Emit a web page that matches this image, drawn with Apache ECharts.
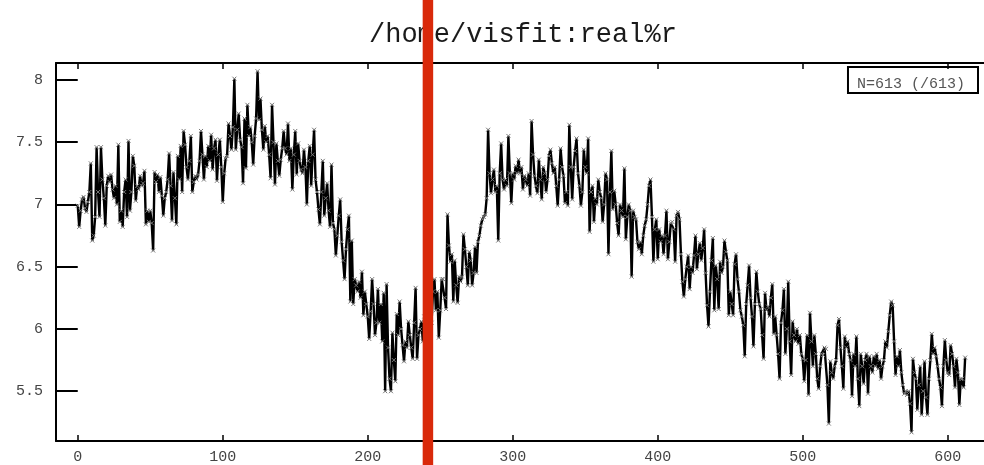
<!DOCTYPE html>
<html>
<head>
<meta charset="utf-8">
<script src="https://cdn.jsdelivr.net/npm/echarts@6/dist/echarts.min.js"></script>
<style>
  html, body { margin: 0; padding: 0; background: #ffffff; }
  #chart { width: 984px; height: 465px; }
</style>
</head>
<body>
<div id="chart"></div>
<script>
// Trace of the "real" column, one sample per step.
const chartTitle = '/home/visfit:real%r';
const seriesName = 'N=613 (/613)';
const xTicks = [0, 100, 200, 300, 400, 500, 600];
const yTicks = [5.5, 6, 6.5, 7, 7.5, 8];
const cursorX = 241.5;

const realValues = [
  6.99, 6.82, 6.95, 7.04, 7.06, 6.97, 6.94, 7.02, 7.10, 7.33,
  6.71, 6.75, 6.90, 7.46, 7.10, 6.90, 7.46, 7.20, 7.05, 6.83,
  7.15, 7.23, 7.18, 7.24, 7.12, 7.05, 7.15, 7.00, 7.48, 6.86,
  6.95, 6.82, 7.10, 7.20, 6.90, 7.51, 6.95, 7.10, 7.39, 7.31,
  7.03, 7.15, 7.12, 7.23, 7.15, 7.17, 7.27, 6.84, 6.95, 6.86,
  6.95, 6.85, 6.63, 7.26, 7.18, 7.24, 7.10, 7.22, 7.07, 6.91,
  7.05, 7.10, 7.20, 7.41, 7.15, 6.87, 7.26, 7.05, 6.84, 7.39,
  7.20, 7.47, 7.10, 7.59, 7.48, 7.30, 7.20, 7.35, 7.55, 7.10,
  7.18, 7.23, 7.20, 7.24, 7.35, 7.59, 7.40, 7.20, 7.39, 7.30,
  7.47, 7.35, 7.56, 7.28, 7.45, 7.52, 7.19, 7.40, 7.52, 7.30,
  7.02, 7.25, 7.37, 7.39, 7.65, 7.55, 7.44, 7.62, 8.01, 7.44,
  7.60, 7.73, 7.52, 7.46, 7.17, 7.69, 7.29, 7.80, 7.55, 7.62,
  7.50, 7.32, 7.55, 7.69, 8.07, 7.68, 7.85, 7.60, 7.44, 7.63,
  7.50, 7.55, 7.40, 7.21, 7.80, 7.50, 7.16, 7.49, 7.35, 7.23,
  7.36, 7.45, 7.59, 7.45, 7.40, 7.65, 7.35, 7.45, 7.12, 7.40,
  7.59, 7.24, 7.49, 7.35, 7.28, 7.25, 7.44, 7.30, 7.00, 7.35,
  7.47, 7.15, 7.40, 7.60, 7.20, 7.10, 6.96, 6.84, 7.10, 7.35,
  6.91, 7.05, 7.17, 6.95, 6.82, 7.32, 6.85, 6.80, 6.59, 6.75,
  6.91, 7.04, 6.70, 6.55, 6.40, 6.64, 6.80, 6.91, 6.22, 6.71,
  6.20, 6.40, 6.35, 6.30, 6.38, 6.25, 6.46, 6.11, 6.30, 6.20,
  6.10, 5.92, 6.14, 6.40, 6.20, 5.95, 6.05, 6.32, 6.05, 6.20,
  5.90, 6.29, 5.50, 6.36, 5.85, 5.60, 5.50, 5.97, 5.75, 5.58,
  6.12, 5.95, 6.22, 6.00, 5.87, 5.74, 5.90, 5.85, 6.06, 5.95,
  5.85, 5.76, 6.05, 6.33, 5.76, 5.95, 6.00, 6.06, 5.90, 6.10,
  6.00, 6.20, 5.95, 6.15, 6.05, 6.30, 6.40, 6.15, 6.30, 5.93,
  6.15, 6.40, 6.40, 6.25, 6.16, 6.92, 6.67, 6.54, 6.60, 6.22,
  6.55, 6.35, 6.21, 6.42, 6.38, 6.42, 6.76, 6.64, 6.50, 6.35,
  6.62, 6.55, 6.35, 6.45, 6.66, 6.45, 6.70, 6.75, 6.83, 6.88,
  6.90, 6.92, 7.05, 7.60, 7.25, 7.09, 7.20, 7.28, 7.10, 7.15,
  6.71, 7.25, 7.49, 7.20, 7.12, 7.20, 7.15, 7.55, 7.25, 7.01,
  7.25, 7.20, 7.31, 7.25, 7.36, 7.25, 7.30, 7.12, 7.23, 7.20,
  7.15, 7.25, 7.07, 7.67, 7.40, 7.23, 7.15, 7.09, 7.36, 7.20,
  7.04, 7.30, 7.25, 7.10, 7.20, 7.39, 7.44, 7.33, 7.25, 7.30,
  7.15, 6.99, 7.20, 7.45, 7.30, 7.23, 7.01, 7.10, 6.99, 7.64,
  7.30, 7.04, 7.30, 7.43, 7.53, 7.25, 7.15, 6.99, 7.10, 7.44,
  7.30, 7.25, 7.53, 6.78, 7.10, 7.15, 6.86, 7.05, 7.00, 7.20,
  7.10, 7.05, 6.86, 7.00, 7.25, 7.20, 6.60, 7.10, 7.43, 6.96,
  7.11, 7.00, 6.85, 6.75, 7.00, 6.95, 6.90, 7.29, 6.72, 6.90,
  7.00, 6.95, 6.42, 6.95, 6.90, 6.88, 6.70, 6.64, 6.70, 6.60,
  6.75, 6.83, 6.88, 7.00, 7.15, 7.20, 6.90, 6.54, 6.80, 6.88,
  6.56, 6.80, 6.70, 6.75, 6.60, 6.75, 6.95, 6.56, 6.70, 6.85,
  6.86, 6.80, 6.54, 6.91, 6.94, 6.88, 6.60, 6.38, 6.26, 6.40,
  6.50, 6.59, 6.32, 6.50, 6.45, 6.59, 6.75, 6.48, 6.60, 6.69,
  6.55, 6.65, 6.80, 6.45, 6.19, 6.02, 6.30, 6.55, 6.73, 6.15,
  6.51, 6.40, 6.16, 6.54, 6.45, 6.50, 6.71, 6.62, 6.55, 6.11,
  6.30, 6.20, 6.11, 6.52, 6.60, 6.40, 6.30, 6.15, 6.10, 6.03,
  5.78, 6.20, 6.35, 6.51, 6.25, 6.10, 5.86, 6.20, 6.46, 6.30,
  6.20, 6.16, 5.95, 5.76, 6.29, 6.15, 6.18, 6.10, 6.25, 6.36,
  5.96, 6.10, 5.95, 5.80, 5.60, 6.05, 6.15, 6.32, 5.80, 6.00,
  6.38, 5.90, 5.63, 6.06, 5.95, 5.90, 6.00, 5.88, 5.95, 5.80,
  5.76, 5.58, 5.75, 5.95, 5.47, 6.13, 5.90, 5.70, 5.95, 5.80,
  5.60, 5.52, 5.70, 5.80, 5.79, 5.85, 5.84, 5.55, 5.24, 5.74,
  5.65, 5.60, 5.70, 5.75, 6.03, 6.08, 5.85, 5.70, 5.52, 5.94,
  5.85, 5.90, 5.80, 5.75, 5.46, 5.80, 5.70, 5.94, 5.60, 5.38,
  5.80, 5.70, 5.56, 5.75, 5.80, 5.48, 5.78, 5.70, 5.65, 5.78,
  5.70, 5.80, 5.68, 5.75, 5.60, 5.70, 5.75, 5.90, 5.85, 5.98,
  6.11, 6.22, 6.19, 5.90, 5.63, 5.78, 5.70, 5.83, 5.65, 5.55,
  5.48, 5.50, 5.47, 5.50, 5.40, 5.17, 5.76, 5.65, 5.60, 5.35,
  5.55, 5.70, 5.31, 5.50, 5.74, 5.45, 5.31, 5.60, 5.75, 5.96,
  5.80, 5.85, 5.78, 5.70, 5.60, 5.53, 5.38, 5.70, 5.91, 5.75,
  5.65, 5.63, 5.87, 5.80, 5.70, 5.53, 5.76, 5.65, 5.39, 5.60,
  5.60, 5.53, 5.77
];

const points = realValues.map((v, i) => [i, v]);

const monoFont = '"Liberation Mono", "DejaVu Sans Mono", monospace';
const xRange = { min: -15, max: 625 };
const yRange = { min: 5.1, max: 8.136 };

const chart = echarts.init(document.getElementById('chart'), null, { renderer: 'canvas' });

const frameLine = { show: true, onZero: false, lineStyle: { color: '#000', width: 2 } };

chart.setOption({
  animation: false,
  backgroundColor: '#ffffff',
  title: {
    text: chartTitle,
    left: 364,
    top: 16,
    textStyle: { fontFamily: monoFont, fontSize: 27, fontWeight: 'normal', color: '#1a1a1a' }
  },
  legend: {
    data: [{ name: seriesName, icon: 'rect' }],
    right: 6,
    top: 67,
    itemWidth: 0,
    itemHeight: 0,
    padding: [10, 13, 1, 3],
    borderColor: '#000',
    borderWidth: 2,
    borderRadius: 0,
    selectedMode: false,
    textStyle: { fontFamily: monoFont, fontSize: 15, color: '#555' }
  },
  grid: { left: 56, right: 0, top: 63, bottom: 22, containLabel: false },
  xAxis: [
    {
      type: 'value', position: 'bottom', min: xRange.min, max: xRange.max,
      axisLine: frameLine,
      axisTick: { show: true, inside: true, length: 6, customValues: xTicks, lineStyle: { color: '#000', width: 1.5 } },
      axisLabel: { show: true, customValues: xTicks, margin: 9, fontFamily: monoFont, fontSize: 15, color: '#444' },
      splitLine: { show: false }
    },
    {
      type: 'value', position: 'top', min: xRange.min, max: xRange.max,
      axisLine: frameLine,
      axisTick: { show: true, inside: true, length: 6, customValues: xTicks, lineStyle: { color: '#000', width: 1.5 } },
      axisLabel: { show: false },
      splitLine: { show: false }
    }
  ],
  yAxis: [
    {
      type: 'value', position: 'left', min: yRange.min, max: yRange.max,
      axisLine: frameLine,
      axisTick: { show: true, inside: true, length: 14, customValues: yTicks, lineStyle: { color: '#000', width: 2 } },
      axisLabel: { show: true, customValues: yTicks, margin: 13, fontFamily: monoFont, fontSize: 15, color: '#444' },
      splitLine: { show: false }
    },
    {
      type: 'value', position: 'right', min: yRange.min, max: yRange.max,
      axisLine: { show: false },
      axisTick: { show: true, inside: true, length: 12, customValues: yTicks, lineStyle: { color: '#000', width: 2 } },
      axisLabel: { show: false },
      splitLine: { show: false }
    }
  ],
  series: [
    {
      name: seriesName,
      type: 'line',
      xAxisIndex: 0,
      yAxisIndex: 0,
      data: points,
      showSymbol: true,
      showAllSymbol: true,
      symbol: 'path://M0,0L10,10M10,0L0,10',
      symbolSize: 4,
      itemStyle: { color: 'rgba(0,0,0,0)', borderColor: '#777', borderWidth: 1 },
      lineStyle: { color: '#000', width: 2.4 },
      emphasis: { disabled: true }
    }
  ]
});

// Vertical cursor band placed at cursorX through the chart's own x scale.
const cursorPx = chart.convertToPixel({ xAxisIndex: 0 }, cursorX);
chart.setOption({
  graphic: [
    {
      type: 'rect',
      z: 100,
      shape: { x: cursorPx - 5.25, y: 0, width: 10.5, height: 465 },
      style: { fill: '#d9290a' }
    }
  ]
});
</script>
</body>
</html>
